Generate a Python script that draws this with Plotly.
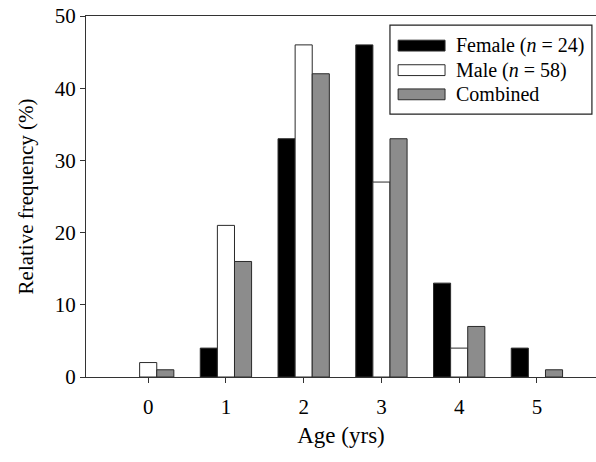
import plotly.graph_objects as go

ages = [0, 1, 2, 3, 4, 5]
age_labels = ["0", "1", "2", "3", "4", "5"]
female = [0, 4, 33, 46, 13, 4]
male = [2, 21, 46, 27, 4, 0]
combined = [1, 16, 42, 33, 7, 1]
series_names = ["Female (<i>n</i> = 24)", "Male (<i>n</i> = 58)", "Combined"]
series_colors = ["#000000", "#ffffff", "#8c8c8c"]
series_values = [female, male, combined]

FONT = "Liberation Serif"

fig = go.Figure()
for name, color, vals in zip(series_names, series_colors, series_values):
    fig.add_trace(go.Bar(
        x=ages, y=vals, name=name,
        marker=dict(color=color,
                    line=dict(color="#2a2a2a", width=[0 if v == 0 else 1 for v in vals])),
        showlegend=False,
    ))

# custom legend (wide swatches like the original)
lx0, lx1 = 0.612, 0.704
rows_y = [0.918, 0.850, 0.783]
sh = 0.015
for name, color, yy in zip(series_names, series_colors, rows_y):
    fig.add_shape(type="rect", xref="paper", yref="paper",
                  x0=lx0, x1=lx1, y0=yy - sh, y1=yy + sh,
                  fillcolor=color, line=dict(color="#2a2a2a", width=1))
    fig.add_annotation(xref="paper", yref="paper", x=0.722, y=yy,
                       text=name, showarrow=False, xanchor="left", yanchor="middle",
                       font=dict(family=FONT, size=20, color="black"))
fig.add_shape(type="rect", xref="paper", yref="paper",
              x0=0.596, x1=0.992, y0=0.728, y1=0.975,
              line=dict(color="#222222", width=1.2), fillcolor="rgba(0,0,0,0)")

fig.update_layout(
    width=596, height=462,
    margin=dict(l=86, r=0, t=16, b=85),
    paper_bgcolor="white", plot_bgcolor="white",
    barmode="group", bargap=0.34, bargroupgap=0,
    font=dict(family=FONT, size=21, color="black"),
    xaxis=dict(
        range=[-0.8, 5.76], tickmode="array", tickvals=ages, ticktext=age_labels,
        showline=True, linecolor="#333333", linewidth=1, mirror=True,
        ticks="outside", ticklen=5, tickcolor="#333333", ticklabelstandoff=6,
        showgrid=False, zeroline=False, automargin=False,
        title=dict(text="Age (yrs)", font=dict(family=FONT, size=23), standoff=8),
    ),
    yaxis=dict(
        range=[0, 50], tickvals=[0, 10, 20, 30, 40, 50],
        showline=True, linecolor="#333333", linewidth=1,
        ticks="outside", ticklen=5, tickcolor="#333333",
        showgrid=False, zeroline=False, automargin=False,
        title=dict(text="Relative frequency (%)", font=dict(family=FONT, size=21), standoff=15),
    ),
)

fig.write_html("out.html", config={"displayModeBar": False},
               post_script="document.body.style.margin='0';")
